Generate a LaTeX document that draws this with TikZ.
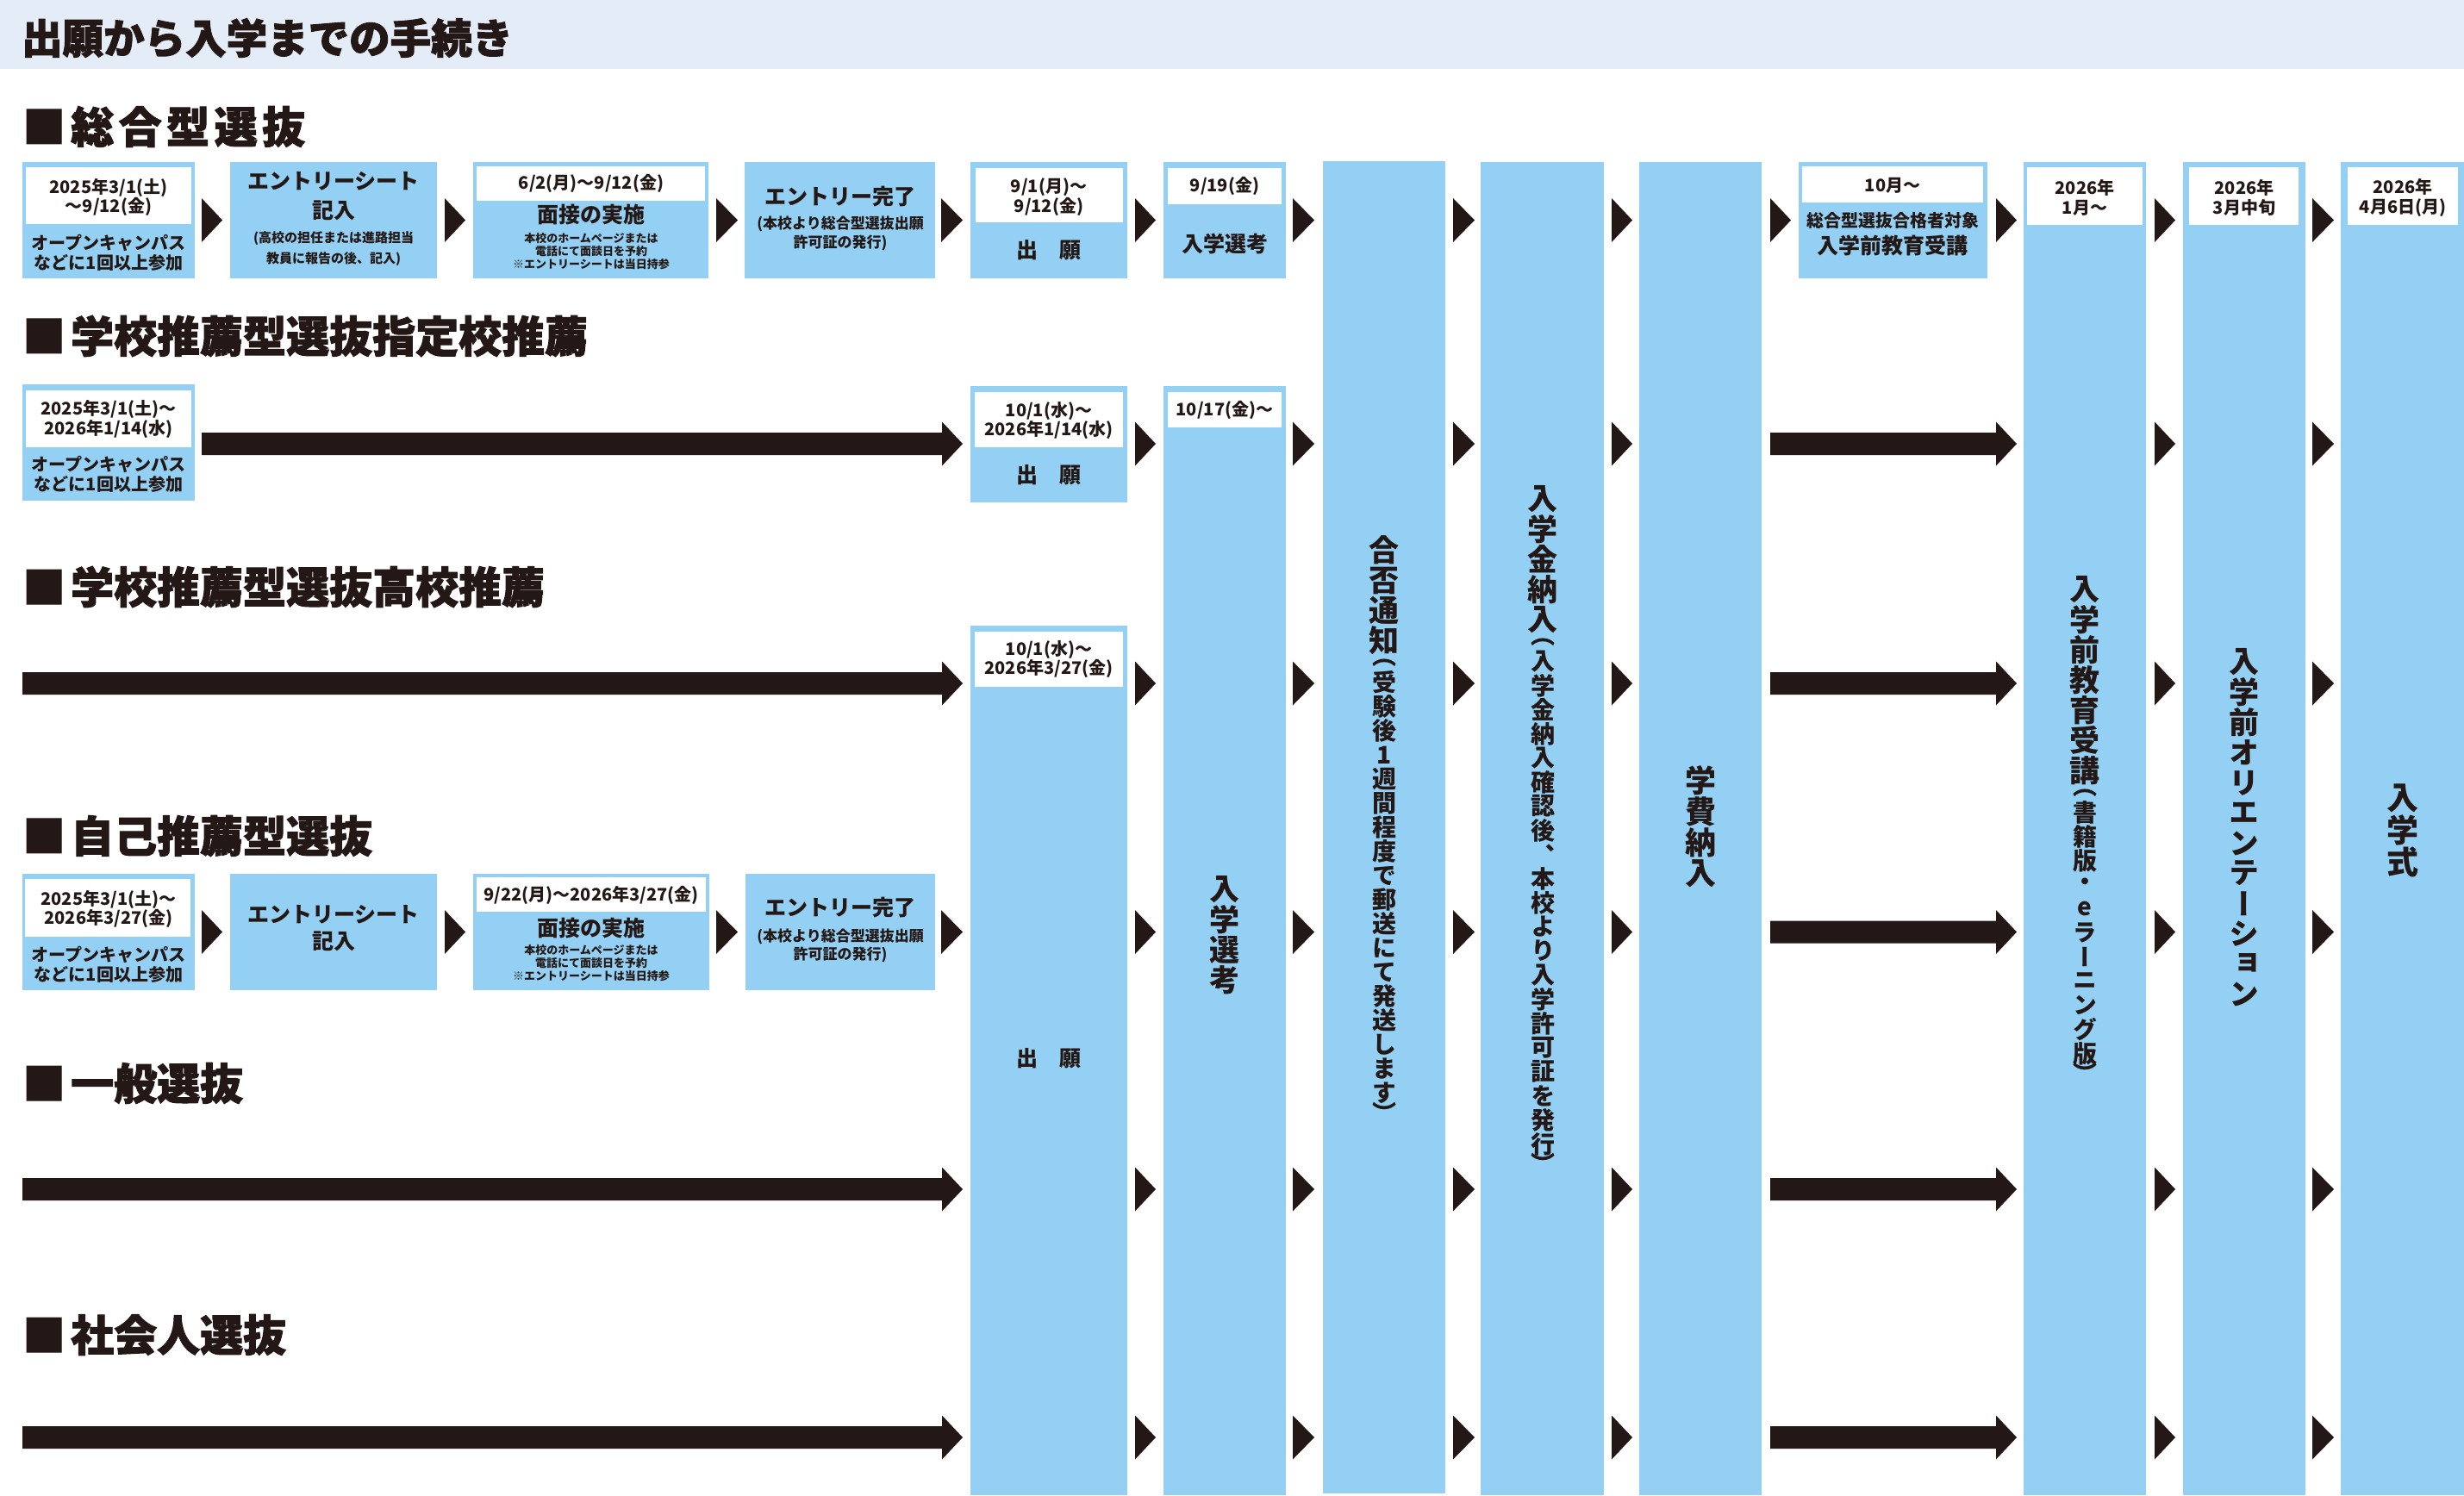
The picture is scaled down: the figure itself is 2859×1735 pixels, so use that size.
\documentclass[tikz,border=0pt]{standalone}
\usepackage{fontspec}
\setmainfont{Noto Sans CJK JP}
\newfontfamily\jpv{Noto Sans CJK JP}[RawFeature=+vert]
\newfontfamily\jph{Noto Sans CJK JP}[BoldFeatures={FakeBold=2}]
\definecolor{boxblue}{RGB}{147,208,244}
\definecolor{hdrbg}{RGB}{228,236,248}
\definecolor{ink}{RGB}{35,24,21}
\newcommand\fs[2]{\fontsize{#1}{#2}\selectfont}
\newcommand\vcell[2]{\vbox to #1{\vss\hbox to 60pt{\hss#2\hss}\vss}}
\def\vpitch{35pt}
\def\vloop#1{\ifx#1\relax\else\vcell{\vpitch}{#1}\expandafter\vloop\fi}
\newcommand\vstr[2]{\def\vpitch{#1}\vloop#2\relax}
\newcommand\vtext[1]{\vbox{\offinterlineskip\jpv\bfseries #1}}
\newcommand\tri[3]{\fill[ink] (#1,#3-25.5) -- (#2,#3) -- (#1,#3+25.5) -- cycle;}
\newcommand\barr[3]{\fill[ink] (#1,#3-13) -- (#2-24,#3-13) -- (#2-24,#3-25.5) -- (#2,#3) -- (#2-24,#3+25.5) -- (#2-24,#3+13) -- (#1,#3+13) -- cycle;}
\newcommand\bx[6]{\node[#6, minimum width={(#4)-(#2)}, minimum height={(#5)-(#3)}] (#1) at ({((#2)+(#4))/2},{((#3)+(#5))/2}) {};}
\newcommand\hd[1]{■\hspace{6pt}#1}
\begin{document}
\begin{tikzpicture}[x=1pt,y=-1pt,
  bluebox/.style={fill=boxblue,draw=none,inner sep=0,outer sep=0},
  whitebox/.style={fill=white,draw=none,inner sep=0,outer sep=0},
  txt/.style={text=ink,inner sep=0,align=center,font=\bfseries\fs{20}{23}},
  date/.style={txt,font=\bfseries\fs{20}{22.5}},
  big/.style={txt,font=\bfseries\fs{25}{34}},
  note/.style={txt,font=\bfseries\fs{13}{15}},
  head/.style={text=ink,inner sep=0,anchor=west,font=\jph\bfseries\fs{50}{50}},
  vt/.style={text=ink,inner sep=0}]
\useasboundingbox (0,0) rectangle (2859,1735);
\fill[white] (0,0) rectangle (2859,1735);
% header band
\fill[hdrbg] (0,0) rectangle (2859,80);
\node[text=ink,inner sep=0,anchor=west,font=\jph\bfseries\fs{47.5}{47.5}] (title) at (25,44) {出願から入学までの手続き};
% headings
\node[head] (h1) at (26,147) {■\hspace{6pt}\addfontfeature{LetterSpace=11}総合型選抜};
\node[head] (h2) at (26,390) {\hd{学校推薦型選抜指定校推薦}};
\node[head] (h3) at (26,681) {\hd{学校推薦型選抜高校推薦}};
\node[head] (h4) at (26,970) {\hd{自己推薦型選抜}};
\node[head] (h5) at (26,1257) {\hd{一般選抜}};
\node[head] (h6) at (26,1549) {\hd{社会人選抜}};
% ---------- boxes ----------
% row 1
\bx{a1}{26}{188}{226}{323}{bluebox}
\bx{b1}{267}{188}{507}{323}{bluebox}
\bx{c1}{549}{188}{822}{323}{bluebox}
\bx{d1}{864}{188}{1085}{323}{bluebox}
\bx{e1}{1126}{188}{1308}{323}{bluebox}
\bx{f1}{1350}{188}{1492}{323}{bluebox}
\bx{x1}{2087}{188}{2306}{323}{bluebox}
% tall columns
\bx{g}{1535}{187}{1677}{1733}{bluebox}
\bx{h}{1718}{188}{1861}{1735}{bluebox}
\bx{i}{1902}{188}{2044}{1735}{bluebox}
\bx{j}{2348}{188}{2490}{1735}{bluebox}
\bx{k}{2533}{188}{2675}{1735}{bluebox}
\bx{l}{2716}{188}{2859}{1735}{bluebox}
% row 2
\bx{a2}{26}{446}{226}{581}{bluebox}
\bx{e2}{1126}{448}{1308}{583}{bluebox}
\bx{f2}{1350}{448}{1492}{1735}{bluebox}
% row 3
\bx{e3}{1126}{726}{1308}{1735}{bluebox}
% row 4
\bx{a4}{26}{1014}{226}{1149}{bluebox}
\bx{b4}{267}{1014}{507}{1149}{bluebox}
\bx{c4}{549}{1014}{823}{1149}{bluebox}
\bx{d4}{865}{1014}{1085}{1149}{bluebox}
% white inner boxes
\bx{a1w}{30}{194}{222}{260}{whitebox}
\bx{c1w}{553}{193}{818}{233}{whitebox}
\bx{e1w}{1132}{195}{1303}{258}{whitebox}
\bx{f1w}{1355}{195}{1487}{237}{whitebox}
\bx{x1w}{2091}{193}{2301}{235}{whitebox}
\bx{j1w}{2352}{194}{2486}{261}{whitebox}
\bx{k1w}{2540}{194}{2667}{261}{whitebox}
\bx{l1w}{2724}{194}{2852}{261}{whitebox}
\bx{a2w}{30}{453}{222}{519}{whitebox}
\bx{e2w}{1131}{455}{1303}{519}{whitebox}
\bx{f2w}{1355}{455}{1487}{496}{whitebox}
\bx{e3w}{1131}{733}{1303}{797}{whitebox}
\bx{a4w}{29}{1020}{221}{1087}{whitebox}
\bx{c4w}{553}{1018}{819}{1058}{whitebox}
% ---------- arrows ----------
\foreach \ax/\bx in {234/258,516/540,831/856,1092/1117,1317/1341,1500/1525,1686/1711,1870/1894,2054/2078,2316/2340,2500/2524,2683/2708}{\tri{\ax}{\bx}{255.5}}
\foreach \yy in {515,793,1081.5,1380,1668}{
  \tri{1317}{1341}{\yy}\tri{1500}{1525}{\yy}\tri{1686}{1711}{\yy}\tri{1870}{1894}{\yy}
  \barr{2054}{2340}{\yy}\tri{2500}{2524}{\yy}\tri{2683}{2708}{\yy}}
\barr{234}{1117}{515}
\barr{26}{1117}{793}
\foreach \ax/\bx in {234/258,516/540,831/856,1092/1117}{\tri{\ax}{\bx}{1081.5}}
\barr{26}{1117}{1380}
\barr{26}{1117}{1668}
% ---------- texts row 1 ----------
\node[date] (a1d) at (126,229) {2025年3/1(土)\\～9/12(金)};
\node[txt] (a1t) at (126,293.5) {オープンキャンパス\\などに1回以上参加};
\node[big] (b1t) at (387,228) {エントリーシート\\記入};
\node[txt,font=\bfseries\fs{15}{24}] (b1s) at (387,289) {(高校の担任または進路担当\\教員に報告の後、記入)};
\node[date] (c1d) at (686,213) {6/2(月)～9/12(金)};
\node[big] (c1t) at (686,249) {面接の実施};
\node[note] (c1s) at (686,292) {本校のホームページまたは\\電話にて面談日を予約\\※エントリーシートは当日持参};
\node[big] (d1t) at (975,228) {エントリー完了};
\node[txt,font=\bfseries\fs{17}{22}] (d1s) at (975,271) {(本校より総合型選抜出願\\許可証の発行)};
\node[date] (e1d) at (1217,228.5) {9/1(月)～\\9/12(金)};
\node[big] (e1t) at (1217,290) {出　願};
\node[date] (f1d) at (1421,216) {9/19(金)};
\node[big] (f1t) at (1421,283) {入学選考};
\node[date] (x1d) at (2196,215) {10月～};
\node[txt] (x1s) at (2196,256) {総合型選抜合格者対象};
\node[big] (x1t) at (2196,285) {入学前教育受講};
\node[date] (j1d) at (2419,229.5) {2026年\\1月～};
\node[date] (k1d) at (2604,229.5) {2026年\\3月中旬};
\node[date] (l1d) at (2788,229.5) {2026年\\4月6日(月)};
% ---------- row 2 ----------
\node[date] (a2d) at (126,486.5) {2025年3/1(土)～\\2026年1/14(水)};
\node[txt] (a2t) at (126,550.5) {オープンキャンパス\\などに1回以上参加};
\node[date] (e2d) at (1217,488) {10/1(水)～\\2026年1/14(水)};
\node[big] (e2t) at (1217,551) {出　願};
\node[date] (f2d) at (1421,476) {10/17(金)～};
% ---------- row 3 ----------
\node[date] (e3d) at (1217,765) {10/1(水)～\\2026年3/27(金)};
\node[big] (e3t) at (1217,1228) {出　願};
% ---------- row 4 ----------
\node[date] (a4d) at (126,1055) {2025年3/1(土)～\\2026年3/27(金)};
\node[txt] (a4t) at (126,1119) {オープンキャンパス\\などに1回以上参加};
\node[big,font=\bfseries\fs{25}{31}] (b4t) at (387,1077.5) {エントリーシート\\記入};
\node[date] (c4d) at (686,1039) {9/22(月)～2026年3/27(金)};
\node[big] (c4t) at (686,1077) {面接の実施};
\node[note] (c4s) at (686,1118) {本校のホームページまたは\\電話にて面談日を予約\\※エントリーシートは当日持参};
\node[big] (d4t) at (975,1053) {エントリー完了};
\node[txt,font=\bfseries\fs{17}{21}] (d4s) at (975,1097.5) {(本校より総合型選抜出願\\許可証の発行)};
% ---------- vertical texts ----------
\node[vt] (fv) at (1421,1085) {\vtext{\fs{35}{35}\vstr{35pt}{入学選考}}};
\node[vt] (gv) at (1606,960) {\vtext{\fs{35}{35}\vstr{35pt}{合否通知}\fs{28}{28}\vstr{17pt}{（}\vstr{28pt}{受験後1週間程度で郵送にて発送します}\vstr{17pt}{）}}};
\node[vt] (hv) at (1790,960) {\vtext{\fs{35}{35}\vstr{35pt}{入学金納入}\fs{28}{28}\vstr{17pt}{（}\vstr{28pt}{入学金納入確認後、本校より入学許可証を発行}\vstr{17pt}{）}}};
\node[vt] (iv) at (1973,960) {\vtext{\fs{36}{36}\vstr{36pt}{学費納入}}};
\node[vt] (jv) at (2419,960) {\vtext{\fs{35}{35}\vstr{35pt}{入学前教育受講}\fs{28}{28}\vstr{17pt}{（}\vstr{28pt}{書籍版・eラーニング版}\vstr{17pt}{）}}};
\node[vt] (kv) at (2604,961) {\vtext{\fs{35}{35}\vstr{35pt}{入学前オリエンテーション}}};
\node[vt] (lv) at (2788,963) {\vtext{\fs{37}{37}\vstr{37pt}{入学式}}};
\end{tikzpicture}
\end{document}
